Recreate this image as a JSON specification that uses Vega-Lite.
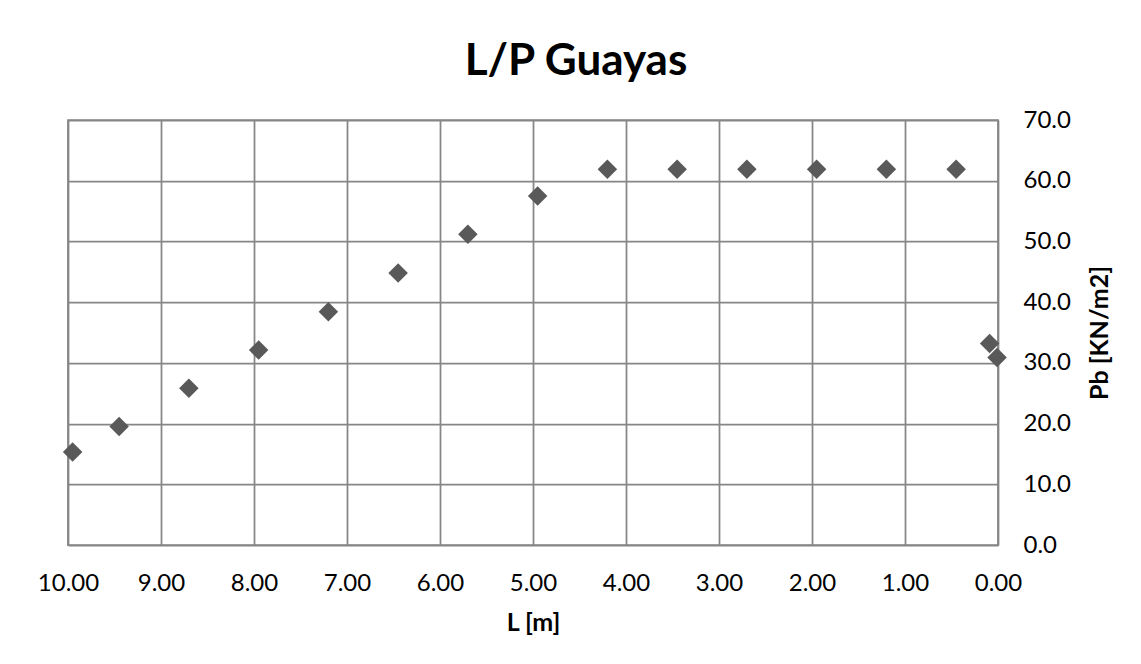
{
  "$schema": "https://vega.github.io/schema/vega-lite/v6.json",
  "width": 930,
  "height": 425,
  "autosize": {"type": "none"},
  "padding": {"left": 68, "top": 120, "right": 143, "bottom": 119},
  "background": "#ffffff",
  "title": {
    "text": "L/P Guayas",
    "font": "Lato",
    "fontSize": 44,
    "fontWeight": "bold",
    "color": "#000000",
    "anchor": "middle",
    "frame": "group",
    "baseline": "alphabetic",
    "offset": -11,
    "dx": 43
  },
  "data": {
    "values": [
      {"L": 9.95, "Pb": 15.3},
      {"L": 9.45, "Pb": 19.5},
      {"L": 8.70, "Pb": 25.8},
      {"L": 7.95, "Pb": 32.1},
      {"L": 7.20, "Pb": 38.4},
      {"L": 6.45, "Pb": 44.8},
      {"L": 5.70, "Pb": 51.2},
      {"L": 4.95, "Pb": 57.5},
      {"L": 4.20, "Pb": 61.9},
      {"L": 3.45, "Pb": 61.9},
      {"L": 2.70, "Pb": 61.9},
      {"L": 1.95, "Pb": 61.9},
      {"L": 1.20, "Pb": 61.9},
      {"L": 0.45, "Pb": 61.9},
      {"L": 0.09, "Pb": 33.2},
      {"L": 0.01, "Pb": 30.9}
    ]
  },
  "mark": {"type": "point", "shape": "diamond", "filled": true, "size": 380, "color": "#595959", "opacity": 1},
  "encoding": {
    "x": {
      "field": "L",
      "type": "quantitative",
      "scale": {"domain": [0, 10], "reverse": true, "nice": false, "zero": false},
      "axis": {
        "orient": "bottom",
        "title": "L [m]",
        "values": [0, 1, 2, 3, 4, 5, 6, 7, 8, 9, 10],
        "format": ".2f",
        "labelBaseline": "alphabetic",
        "labelPadding": 45,
        "titleBaseline": "alphabetic",
        "titleY": 85,
        "titleX": 465
      }
    },
    "y": {
      "field": "Pb",
      "type": "quantitative",
      "scale": {"domain": [0, 70], "nice": false, "zero": true},
      "axis": {
        "orient": "right",
        "title": "Pb [KN/m2]",
        "values": [0, 10, 20, 30, 40, 50, 60, 70],
        "format": ".1f",
        "labelAlign": "left",
        "labelBaseline": "middle",
        "labelPadding": 25,
        "titleAngle": 270,
        "titleBaseline": "alphabetic",
        "titleAlign": "center",
        "titleX": 109,
        "titleY": 212.5
      }
    }
  },
  "config": {
    "font": "Lato",
    "view": {"stroke": "#868686", "strokeWidth": 1.75},
    "axis": {
      "domain": false,
      "ticks": false,
      "tickSize": 0,
      "grid": true,
      "gridColor": "#868686",
      "gridWidth": 1.75,
      "gridOpacity": 1,
      "labelFont": "Lato",
      "labelFontSize": 24,
      "labelColor": "#000000",
      "labelFlush": false,
      "labelOverlap": false,
      "titleFont": "Lato",
      "titleFontSize": 25,
      "titleFontWeight": "bold",
      "titleColor": "#000000"
    }
  }
}
